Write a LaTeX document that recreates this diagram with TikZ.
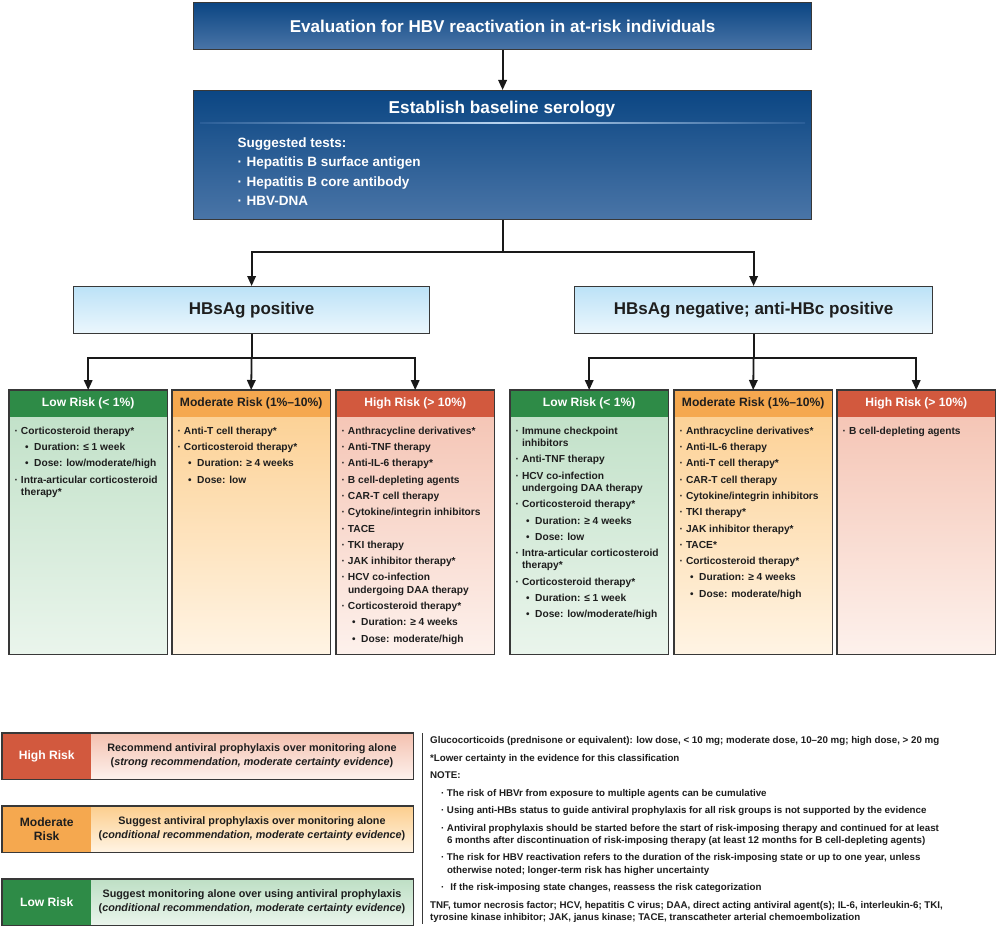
\documentclass[tikz,border=0pt]{standalone}
\usepackage{fontspec}
\setmainfont{Liberation Sans}
\usetikzlibrary{arrows.meta}
\definecolor{bord}{HTML}{383838}
\definecolor{blueT}{HTML}{0B4683}
\definecolor{blueB}{HTML}{4A75A7}
\definecolor{blueM}{HTML}{2A5E98}
\definecolor{lineL}{HTML}{B9D5F0}
\definecolor{lbT}{HTML}{BCE2F7}
\definecolor{lbB}{HTML}{ECF7FD}
\definecolor{gH}{HTML}{2E8B47}
\definecolor{gT}{HTML}{BEDFC5}
\definecolor{gB}{HTML}{EAF5EC}
\definecolor{oH}{HTML}{F5A84F}
\definecolor{oT}{HTML}{FCCE8E}
\definecolor{oB}{HTML}{FFF4E4}
\definecolor{rH}{HTML}{D2593E}
\definecolor{rT}{HTML}{F4C1B0}
\definecolor{rB}{HTML}{FDF1EC}
\definecolor{txt}{HTML}{1E1E1E}
\newcommand\fsz[2]{\fontsize{#1}{#2}\selectfont}
\newcommand\bu{\makebox[6.3pt][l]{·}}
\newcommand\cn{\hspace*{6.3pt}}
\newcommand\subu{\hspace*{10.5pt}\makebox[9pt][l]{\fsz{10}{10}•}}
\newcommand\tb{\makebox[9pt][l]{·}}
\newcommand\nb{\hspace*{11pt}\makebox[5.8pt][l]{·}}
\newcommand\nc{\hspace*{16.8pt}}
\tikzset{
  box/.style={draw=bord, line width=1.2pt, inner sep=0pt, anchor=north west},
  bluebox/.style={box, top color=blueT, bottom color=blueB, text=white},
  lightbox/.style={box, top color=lbT, bottom color=lbB, text=txt, font=\fsz{17}{20}\bfseries},
  conn/.style={line width=1.8pt, draw=black!90, -{Triangle[length=10pt,width=8.5pt]}},
  plain/.style={line width=1.8pt, draw=black!90},
  rbody/.style={anchor=north west, inner sep=0pt, minimum width=158pt, minimum height=264pt},
  rhead/.style={anchor=north west, inner sep=0pt, minimum width=158pt, minimum height=27pt, font=\fsz{12.1}{14}\bfseries},
  frame/.style={draw=bord, line width=1.2pt},
  lowbody/.style={rbody, top color=gT, bottom color=gB},
  modbody/.style={rbody, top color=oT, bottom color=oB},
  highbody/.style={rbody, top color=rT, bottom color=rB},
  lowhead/.style={rhead, fill=gH, text=white},
  modhead/.style={rhead, fill=oH, text=txt},
  highhead/.style={rhead, fill=rH, text=white},
  items/.style={anchor=north west, inner sep=0pt, align=left, font=\fsz{10.2}{12.3}\bfseries, text=txt},
  legbody/.style={anchor=north west, inner sep=0pt, minimum width=411pt, minimum height=46pt},
  leglabel/.style={anchor=north west, inner sep=0pt, minimum width=89pt, minimum height=46pt, align=center, font=\fsz{12.1}{14}\bfseries},
  legtext/.style={inner sep=0pt, align=center, font=\fsz{10.8}{14}\bfseries, text=txt},
  notes/.style={anchor=north west, inner sep=0pt, align=left, font=\fsz{9.75}{12.2}\bfseries, text=txt},
}
\begin{document}
\begin{tikzpicture}[x=1pt, y=-1pt, line join=miter]
\useasboundingbox[fill=white] (0,0) rectangle (1000,928);
% top
\node[bluebox, minimum width=618pt, minimum height=47pt, font=\fsz{17.1}{20}\bfseries] (eval) at (193,2) {Evaluation for HBV reactivation in at-risk individuals};
\node[bluebox, minimum width=618pt, minimum height=129pt] (sero) at (193,90) {};
\node[text=white, font=\fsz{17.2}{20}\bfseries, inner sep=0pt] (seroT) at (502,109.5) {Establish baseline serology};
\shade[left color=blueM, right color=blueM, middle color=lineL] (200,122.3) rectangle (805,123.7);
\node[anchor=north west, inner sep=0pt, align=left, text=white, font=\fsz{13.5}{19.5}\bfseries] (tests) at (237.5,135) {\rule{0pt}{12pt}Suggested tests:\\ \tb Hepatitis B surface antigen\\ \tb Hepatitis B core antibody\\ \tb HBV-DNA};
\draw[conn] (eval.south) -- (sero.north);
% second level
\node[lightbox, minimum width=356pt, minimum height=47pt] (pos) at (73,286) {HBsAg positive};
\node[lightbox, minimum width=358pt, minimum height=47pt] (neg) at (574,286) {HBsAg negative; anti-HBc positive};
\coordinate (j1) at (sero.south |- 0,252);
\draw[plain] (sero.south) -- (j1);
\draw[conn] (j1) -| (pos.north);
\draw[conn] (j1) -| (neg.north);
% risk columns, left
\node[lowbody] (b1) at (9,390) {};
\node[lowhead] (h1) at (9,390) {Low Risk (< 1\%)};
\draw[frame] (b1.north west) rectangle (b1.south east);
\node[modbody] (b2) at (172,390) {};
\node[modhead] (h2) at (172,390) {Moderate Risk (1\%–10\%)};
\draw[frame] (b2.north west) rectangle (b2.south east);
\node[highbody] (b3) at (336,390) {};
\node[highhead] (h3) at (336,390) {High Risk (> 10\%)};
\draw[frame] (b3.north west) rectangle (b3.south east);
% risk columns, right
\node[lowbody] (b4) at (510,390) {};
\node[lowhead] (h4) at (510,390) {Low Risk (< 1\%)};
\draw[frame] (b4.north west) rectangle (b4.south east);
\node[modbody] (b5) at (674,390) {};
\node[modhead] (h5) at (674,390) {Moderate Risk (1\%–10\%)};
\draw[frame] (b5.north west) rectangle (b5.south east);
\node[highbody] (b6) at (837,390) {};
\node[highhead] (h6) at (837,390) {High Risk (> 10\%)};
\draw[frame] (b6.north west) rectangle (b6.south east);
% connectors to risk columns
\coordinate (j2) at (pos.south |- 0,358);
\coordinate (j3) at (neg.south |- 0,358);
\draw[plain] (pos.south) -- (j2);
\draw[conn] (j2) -| (h1.north);
\draw[conn] (j2) -- (h2.north);
\draw[conn] (j2) -| (h3.north);
\draw[plain] (neg.south) -- (j3);
\draw[conn] (j3) -| (h4.north);
\draw[conn] (j3) -- (h5.north);
\draw[conn] (j3) -| (h6.north);
% items
\node[items] (t1) at (14.5,425) {\rule{0pt}{9pt}\bu Corticosteroid therapy*\\[4pt]
\subu Duration: ≤ 1 week\\[4pt]
\subu Dose: low/moderate/high\\[4pt]
\bu Intra-articular corticosteroid\\
\cn therapy*};
\node[items] (t2) at (177.5,425) {\rule{0pt}{9pt}\bu Anti-T cell therapy*\\[4pt]
\bu Corticosteroid therapy*\\[4pt]
\subu Duration: ≥ 4 weeks\\[4pt]
\subu Dose: low};
\node[items] (t3) at (341.5,425) {\rule{0pt}{9pt}\bu Anthracycline derivatives*\\[4pt]
\bu Anti-TNF therapy\\[4pt]
\bu Anti-IL-6 therapy*\\[4pt]
\bu B cell-depleting agents\\[4pt]
\bu CAR-T cell therapy\\[4pt]
\bu Cytokine/integrin inhibitors\\[4pt]
\bu TACE\\[4pt]
\bu TKI therapy\\[4pt]
\bu JAK inhibitor therapy*\\[4pt]
\bu HCV co-infection\\
\cn undergoing DAA therapy\\[4pt]
\bu Corticosteroid therapy*\\[4pt]
\subu Duration: ≥ 4 weeks\\[4pt]
\subu Dose: moderate/high};
\node[items] (t4) at (515.5,425) {\rule{0pt}{9pt}\bu Immune checkpoint\\
\cn inhibitors\\[4pt]
\bu Anti-TNF therapy\\[4pt]
\bu HCV co-infection\\
\cn undergoing DAA therapy\\[4pt]
\bu Corticosteroid therapy*\\[4pt]
\subu Duration: ≥ 4 weeks\\[4pt]
\subu Dose: low\\[4pt]
\bu Intra-articular corticosteroid\\
\cn therapy*\\[4pt]
\bu Corticosteroid therapy*\\[4pt]
\subu Duration: ≤ 1 week\\[4pt]
\subu Dose: low/moderate/high};
\node[items] (t5) at (679.5,425) {\rule{0pt}{9pt}\bu Anthracycline derivatives*\\[4pt]
\bu Anti-IL-6 therapy\\[4pt]
\bu Anti-T cell therapy*\\[4pt]
\bu CAR-T cell therapy\\[4pt]
\bu Cytokine/integrin inhibitors\\[4pt]
\bu TKI therapy*\\[4pt]
\bu JAK inhibitor therapy*\\[4pt]
\bu TACE*\\[4pt]
\bu Corticosteroid therapy*\\[4pt]
\subu Duration: ≥ 4 weeks\\[4pt]
\subu Dose: moderate/high};
\node[items] (t6) at (842.5,425) {\rule{0pt}{9pt}\bu B cell-depleting agents};
% legend
\node[legbody, top color=rT, bottom color=rB] (lg1) at (2,733) {};
\node[leglabel, fill=rH, text=white] (lb1) at (2,733) {High Risk};
\draw[frame] (lg1.north west) rectangle (lg1.south east);
\node[legtext] (lt1) at (252,756) {Recommend antiviral prophylaxis over monitoring alone\\(\textit{strong recommendation, moderate certainty evidence})};
\node[legbody, top color=oT, bottom color=oB] (lg2) at (2,806) {};
\node[leglabel, fill=oH, text=txt] (lb2) at (2,806) {Moderate\\Risk};
\draw[frame] (lg2.north west) rectangle (lg2.south east);
\node[legtext] (lt2) at (252,829) {Suggest antiviral prophylaxis over monitoring alone\\(\textit{conditional recommendation, moderate certainty evidence})};
\node[legbody, top color=gT, bottom color=gB] (lg3) at (2,879) {};
\node[leglabel, fill=gH, text=white] (lb3) at (2,879) {Low Risk};
\draw[frame] (lg3.north west) rectangle (lg3.south east);
\node[legtext] (lt3) at (252,902) {Suggest monitoring alone over using antiviral prophylaxis\\(\textit{conditional recommendation, moderate certainty evidence})};
% separator and notes
\coordinate (s1) at (422.5,733);
\coordinate (s2) at (422.5,924);
\draw[draw=bord, line width=1pt] (s1) -- (s2);
\node[notes] (nt) at (430,734.5) {\rule{0pt}{9pt}Glucocorticoids (prednisone or equivalent): low dose, < 10 mg; moderate dose, 10–20 mg; high dose, > 20 mg\\[5.3pt]
*Lower certainty in the evidence for this classification\\[5.3pt]
NOTE:\\[5.3pt]
\nb The risk of HBVr from exposure to multiple agents can be cumulative\\[5.3pt]
\nb Using anti-HBs status to guide antiviral prophylaxis for all risk groups is not supported by the evidence\\[5.3pt]
\nb Antiviral prophylaxis should be started before the start of risk-imposing therapy and continued for at least\\
\nc 6 months after discontinuation of risk-imposing therapy (at least 12 months for B cell-depleting agents)\\[5.3pt]
\nb The risk for HBV reactivation refers to the duration of the risk-imposing state or up to one year, unless\\
\nc otherwise noted; longer-term risk has higher uncertainty\\[5.3pt]
\nb\hspace*{3.5pt}If the risk-imposing state changes, reassess the risk categorization\\[5.3pt]
TNF, tumor necrosis factor; HCV, hepatitis C virus; DAA, direct acting antiviral agent(s); IL-6, interleukin-6; TKI,\\
tyrosine kinase inhibitor; JAK, janus kinase; TACE, transcatheter arterial chemoembolization};
\end{tikzpicture}
\end{document}
